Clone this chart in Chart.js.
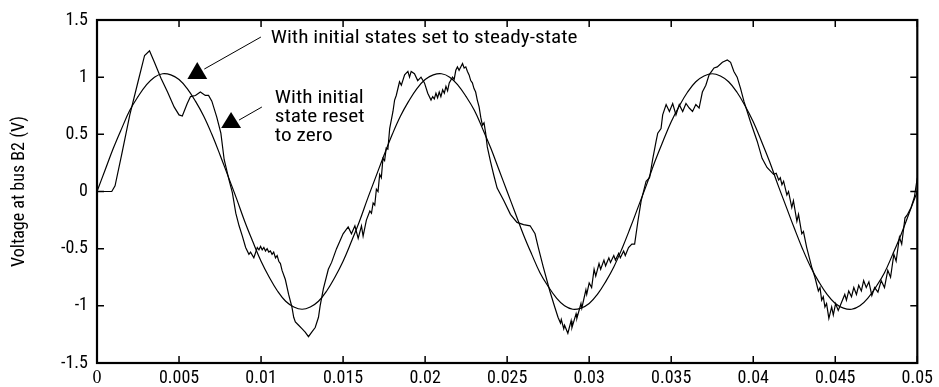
<!DOCTYPE html>
<html>
<head>
<meta charset="utf-8">
<script src="https://cdn.jsdelivr.net/npm/chart.js@4.4.1/dist/chart.umd.min.js"></script>
<style>
  html, body { margin: 0; padding: 0; background: #fff; }
  canvas { display: block; }
</style>
</head>
<body>
<canvas id="chart" width="939" height="387" style="width:939px;height:387px"></canvas>
<script>
// Steady-state solution, sampled every 0.5 ms from 0 to 50 ms
const steadyStep = 0.0005;
const steadyVoltage = [
  0, 0.19, 0.38, 0.55, 0.71, 0.83, 0.93, 1.00, 1.03, 1.02,
  0.98, 0.90, 0.79, 0.66, 0.50, 0.32, 0.13, -0.06, -0.26, -0.44,
  -0.61, -0.75, -0.87, -0.96, -1.01, -1.03, -1.01, -0.96, -0.87, -0.75,
  -0.61, -0.44, -0.26, -0.06, 0.13, 0.32, 0.50, 0.66, 0.79, 0.90,
  0.98, 1.02, 1.03, 1.00, 0.93, 0.83, 0.71, 0.55, 0.38, 0.19,
  0, -0.19, -0.38, -0.55, -0.71, -0.83, -0.93, -1.00, -1.03, -1.02,
  -0.98, -0.90, -0.79, -0.66, -0.50, -0.32, -0.13, 0.06, 0.26, 0.44,
  0.61, 0.75, 0.87, 0.96, 1.01, 1.03, 1.01, 0.96, 0.87, 0.75,
  0.61, 0.44, 0.26, 0.06, -0.13, -0.32, -0.50, -0.66, -0.79, -0.90,
  -0.98, -1.02, -1.03, -1.00, -0.93, -0.83, -0.71, -0.55, -0.38, -0.19,
  0
];

// Response with the initial states reset to zero (time in s, voltage in V)
const resetTime = [
  0, 0.0009, 0.0011, 0.0015, 0.0020, 0.0025, 0.0029, 0.0032, 0.0035, 0.0039,
  0.0043, 0.0047, 0.0050, 0.0052, 0.0055, 0.0057, 0.0060, 0.0063, 0.0066, 0.0068,
  0.0070, 0.0073, 0.00755, 0.00775, 0.00805, 0.00825, 0.00846, 0.00866, 0.00886, 0.00906,
  0.00926, 0.00936, 0.00956, 0.00977, 0.00987, 0.00997, 0.01007, 0.01017, 0.01027, 0.01037,
  0.01047, 0.01057, 0.01067, 0.01077, 0.01088, 0.01098, 0.01108, 0.01118, 0.01128, 0.01148,
  0.01168, 0.01188, 0.01199, 0.01209, 0.01229, 0.01249, 0.01269, 0.01289, 0.01309, 0.0133,
  0.0135, 0.0136, 0.0138, 0.0141, 0.0143, 0.0146, 0.0150, 0.01531, 0.01551, 0.01572,
  0.01592, 0.01612, 0.01622, 0.01642, 0.01663, 0.01673, 0.01683, 0.01693, 0.01703, 0.01713,
  0.01723, 0.01733, 0.01743, 0.01753, 0.01763, 0.01773, 0.01784, 0.01804, 0.01814, 0.01824,
  0.01844, 0.01855, 0.01875, 0.01895, 0.01905, 0.01915, 0.01935, 0.01955, 0.01975, 0.01996,
  0.02016, 0.02036, 0.02046, 0.02056, 0.02066, 0.02076, 0.02086, 0.02096, 0.02107, 0.02117,
  0.02127, 0.02137, 0.02147, 0.02167, 0.02177, 0.02187, 0.02197, 0.02207, 0.02228, 0.02238,
  0.02248, 0.02258, 0.02268, 0.02278, 0.02288, 0.02298, 0.02308, 0.02318, 0.02329, 0.02339,
  0.02349, 0.02359, 0.02369, 0.02379, 0.02399, 0.02419, 0.02439, 0.0248, 0.0252, 0.0256,
  0.0260, 0.0264, 0.0267, 0.0269, 0.0272, 0.0276, 0.0279, 0.0281, 0.02825, 0.0283,
  0.02845, 0.0285, 0.0287, 0.0289, 0.02895, 0.0292, 0.02925, 0.0295, 0.02955, 0.0298,
  0.02985, 0.0300, 0.03015, 0.0303, 0.0304, 0.0306, 0.0307, 0.0309, 0.0310, 0.0312,
  0.0313, 0.0315, 0.0316, 0.0318, 0.0319, 0.0321, 0.0322, 0.0324, 0.0326, 0.03277,
  0.03297, 0.03317, 0.03347, 0.03368, 0.03388, 0.03408, 0.03418, 0.03438, 0.03448, 0.03469,
  0.03489, 0.03509, 0.03529, 0.03549, 0.0357, 0.0359, 0.0361, 0.0363, 0.0365, 0.0367,
  0.0369, 0.03711, 0.03731, 0.03761, 0.03781, 0.03812, 0.03842, 0.03862, 0.03882, 0.03902,
  0.03923, 0.03943, 0.03983, 0.04024, 0.04054, 0.04084, 0.04104, 0.04124, 0.0414, 0.04155,
  0.04165, 0.04175, 0.04185, 0.04205, 0.04215, 0.04235, 0.04245, 0.04266, 0.04276, 0.04296,
  0.04306, 0.04326, 0.04356, 0.04376, 0.04397, 0.04407, 0.04417, 0.04427, 0.04437, 0.04447,
  0.04461, 0.04478, 0.04488, 0.04502, 0.04518, 0.04538, 0.04558, 0.04568, 0.04582, 0.04599,
  0.04613, 0.04629, 0.04643, 0.04659, 0.04673, 0.04689, 0.04705, 0.04723, 0.0474, 0.0476,
  0.0478, 0.048, 0.0482, 0.04837, 0.04857, 0.04871, 0.04891, 0.04905, 0.04925, 0.04941,
  0.04962, 0.04982, 0.05
];
const resetVoltage = [
  0, 0, 0.05, 0.32, 0.67, 0.96, 1.19, 1.23, 1.13, 0.99,
  0.87, 0.74, 0.67, 0.66, 0.77, 0.83, 0.84, 0.87, 0.84, 0.84,
  0.79, 0.65, 0.51, 0.28, 0.10, -0.01, -0.19, -0.30, -0.39, -0.49,
  -0.55, -0.53, -0.58, -0.49, -0.51, -0.48, -0.51, -0.49, -0.52, -0.50,
  -0.53, -0.52, -0.55, -0.53, -0.58, -0.56, -0.61, -0.63, -0.69, -0.77,
  -0.90, -1.01, -1.10, -1.14, -1.17, -1.20, -1.23, -1.27, -1.23, -1.19,
  -1.10, -1.00, -0.85, -0.68, -0.62, -0.50, -0.37, -0.31, -0.37, -0.30,
  -0.41, -0.30, -0.39, -0.25, -0.17, -0.19, -0.10, -0.12, 0.02, 0.00,
  0.15, 0.12, 0.29, 0.27, 0.38, 0.37, 0.55, 0.70, 0.80, 0.84,
  0.96, 0.93, 1.02, 1.05, 1.00, 1.05, 1.03, 0.97, 1.00, 0.95,
  0.86, 0.80, 0.83, 0.81, 0.86, 0.82, 0.87, 0.83, 0.89, 0.86,
  0.92, 0.88, 0.95, 1.00, 0.98, 1.06, 1.09, 1.06, 1.12, 1.08,
  1.09, 1.05, 1.02, 0.97, 0.95, 0.90, 0.87, 0.80, 0.74, 0.65,
  0.58, 0.60, 0.51, 0.39, 0.26, 0.14, 0.03, -0.08, -0.20, -0.27,
  -0.29, -0.30, -0.37, -0.49, -0.66, -0.87, -1.01, -1.10, -1.15, -1.12,
  -1.20, -1.17, -1.24, -1.13, -1.19, -1.07, -1.11, -0.98, -1.02, -0.86,
  -0.90, -0.80, -0.84, -0.68, -0.74, -0.63, -0.68, -0.60, -0.65, -0.58,
  -0.62, -0.56, -0.60, -0.54, -0.58, -0.52, -0.56, -0.49, -0.46, -0.46,
  -0.26, -0.08, 0.09, 0.12, 0.29, 0.44, 0.51, 0.55, 0.67, 0.76,
  0.70, 0.77, 0.67, 0.76, 0.70, 0.77, 0.73, 0.70, 0.76, 0.73,
  0.87, 0.93, 1.02, 1.08, 1.09, 1.13, 1.15, 1.13, 1.05, 1.00,
  0.90, 0.79, 0.61, 0.44, 0.29, 0.21, 0.18, 0.15, 0.16, 0.10,
  0.12, 0.06, 0.09, -0.03, 0.00, -0.14, -0.08, -0.26, -0.20, -0.37,
  -0.35, -0.49, -0.66, -0.75, -0.87, -0.84, -0.95, -0.92, -1.01, -0.98,
  -1.11, -1.01, -1.08, -0.98, -1.04, -0.97, -0.90, -0.95, -0.87, -0.92,
  -0.84, -0.90, -0.82, -0.87, -0.78, -0.84, -0.79, -0.91, -0.84, -0.88,
  -0.78, -0.84, -0.69, -0.75, -0.55, -0.61, -0.40, -0.46, -0.23, -0.20,
  -0.14, -0.05, 0.12
];

// Axis ticks
const xTickValues = [0, 0.005, 0.01, 0.015, 0.02, 0.025, 0.03, 0.035, 0.04, 0.045, 0.05];
const xTickLabels = ['0', '0.005', '0.01', '0.015', '0.02', '0.025', '0.03', '0.035', '0.04', '0.045', '0.05'];
const yTickValues = [-1.5, -1, -0.5, 0, 0.5, 1, 1.5];
const yTickLabels = ['-1.5', '-1', '-0.5', '0', '0.5', '1', '1.5'];

const yTitle = 'Voltage at bus B2 (V)';
const noteSteady = ['With initial states set to steady-state'];
const noteReset = ['With initial', 'state reset', 'to zero'];

const FONT = '"Roboto Condensed", "Liberation Sans Narrow", "Arial Narrow", sans-serif';
const SERIF = '"Liberation Serif", "Times New Roman", serif';

const steadyPoints = steadyVoltage.map((v, i) => ({ x: i * steadyStep, y: v }));
const resetPoints = resetTime.map((t, i) => ({ x: t, y: resetVoltage[i] }));

// Callout placement in data units (x: s, y: V)
const callouts = {
  steady: {
    text: { x: 0.01059, y: 1.296 },
    leader: [{ x: 0.00654, y: 1.071 }, { x: 0.00999, y: 1.351 }],
    head: [{ x: 0.00611, y: 1.133 }, { x: 0.00551, y: 0.984 }, { x: 0.00672, y: 0.984 }]
  },
  reset: {
    text: { x: 0.01084, y: 0.774 },
    lineStep: 0.167,
    leader: [{ x: 0.00866, y: 0.625 }, { x: 0.01005, y: 0.739 }],
    head: [{ x: 0.00817, y: 0.695 }, { x: 0.00757, y: 0.555 }, { x: 0.00878, y: 0.555 }]
  }
};

// Boxed axes with inward ticks plus the two arrow callouts
const frameAndCallouts = {
  id: 'frameAndCallouts',
  afterDatasetsDraw(chart) {
    const { ctx, chartArea: a, scales: { x, y } } = chart;
    const px = p => [x.getPixelForValue(p.x), y.getPixelForValue(p.y)];
    ctx.save();
    ctx.strokeStyle = '#000';
    ctx.fillStyle = '#000';

    ctx.lineWidth = 1.5;
    const len = 7;
    ctx.beginPath();
    xTickValues.forEach(v => {
      const xp = x.getPixelForValue(v);
      ctx.moveTo(xp, a.bottom); ctx.lineTo(xp, a.bottom - len);
      ctx.moveTo(xp, a.top); ctx.lineTo(xp, a.top + len);
    });
    yTickValues.forEach(v => {
      const yp = y.getPixelForValue(v);
      ctx.moveTo(a.left, yp); ctx.lineTo(a.left + len, yp);
      ctx.moveTo(a.right, yp); ctx.lineTo(a.right - len, yp);
    });
    ctx.stroke();

    ctx.lineWidth = 2.2;
    ctx.strokeRect(a.left, a.top, a.right - a.left, a.bottom - a.top);

    const drawCallout = (c, lines) => {
      ctx.lineWidth = 1;
      ctx.beginPath();
      const [l0x, l0y] = px(c.leader[0]);
      const [l1x, l1y] = px(c.leader[1]);
      ctx.moveTo(l0x, l0y); ctx.lineTo(l1x, l1y);
      ctx.stroke();
      ctx.beginPath();
      c.head.forEach((p, i) => {
        const [hx, hy] = px(p);
        if (i === 0) ctx.moveTo(hx, hy); else ctx.lineTo(hx, hy);
      });
      ctx.closePath();
      ctx.fill();
      ctx.font = '19px ' + FONT;
      ctx.textAlign = 'left';
      ctx.textBaseline = 'alphabetic';
      lines.forEach((s, i) => {
        const [tx, ty] = px({ x: c.text.x, y: c.text.y - i * (c.lineStep || 0) });
        ctx.save();
        ctx.translate(tx, ty);
        ctx.scale(1.12, 1);
        ctx.fillText(s, 0, 0);
        ctx.restore();
      });
    };
    drawCallout(callouts.steady, noteSteady);
    drawCallout(callouts.reset, noteReset);
    ctx.restore();
  }
};

new Chart(document.getElementById('chart'), {
  type: 'line',
  data: {
    datasets: [
      {
        label: 'Steady-state initial states',
        data: steadyPoints,
        borderColor: '#000',
        borderWidth: 1.2,
        pointRadius: 0,
        tension: 0.4,
        fill: false
      },
      {
        label: 'Initial states reset to zero',
        data: resetPoints,
        borderColor: '#000',
        borderWidth: 1.2,
        pointRadius: 0,
        tension: 0,
        fill: false
      }
    ]
  },
  options: {
    responsive: false,
    animation: false,
    devicePixelRatio: 1,
    layout: { padding: { top: 20, right: 16, left: 0, bottom: 0 } },
    plugins: {
      legend: { display: false },
      tooltip: { enabled: false }
    },
    scales: {
      x: {
        type: 'linear',
        min: 0,
        max: 0.05,
        grid: { display: false, drawTicks: false, tickLength: 0 },
        border: { display: false },
        afterBuildTicks: s => { s.ticks = xTickValues.map(v => ({ value: v })); },
        afterFit: s => { s.height = 24; },
        ticks: {
          autoSkip: false,
          maxRotation: 0,
          padding: 6,
          color: '#000',
          font: c => ({
            family: c.index === 0 ? SERIF : FONT,
            size: 18,
            lineHeight: 1
          }),
          callback: (v, i) => xTickLabels[i]
        }
      },
      y: {
        min: -1.5,
        max: 1.5,
        grid: { display: false, drawTicks: false, tickLength: 0 },
        border: { display: false },
        afterBuildTicks: s => { s.ticks = yTickValues.map(v => ({ value: v })); },
        afterFit: s => { s.width = 97; },
        ticks: {
          padding: 9,
          color: '#000',
          font: { family: FONT, size: 18 },
          callback: (v, i) => yTickLabels[i]
        },
        title: {
          display: true,
          text: yTitle,
          color: '#000',
          font: { family: FONT, size: 18 },
          padding: { top: 9, bottom: 0 }
        }
      }
    }
  },
  plugins: [frameAndCallouts]
});
</script>
</body>
</html>
